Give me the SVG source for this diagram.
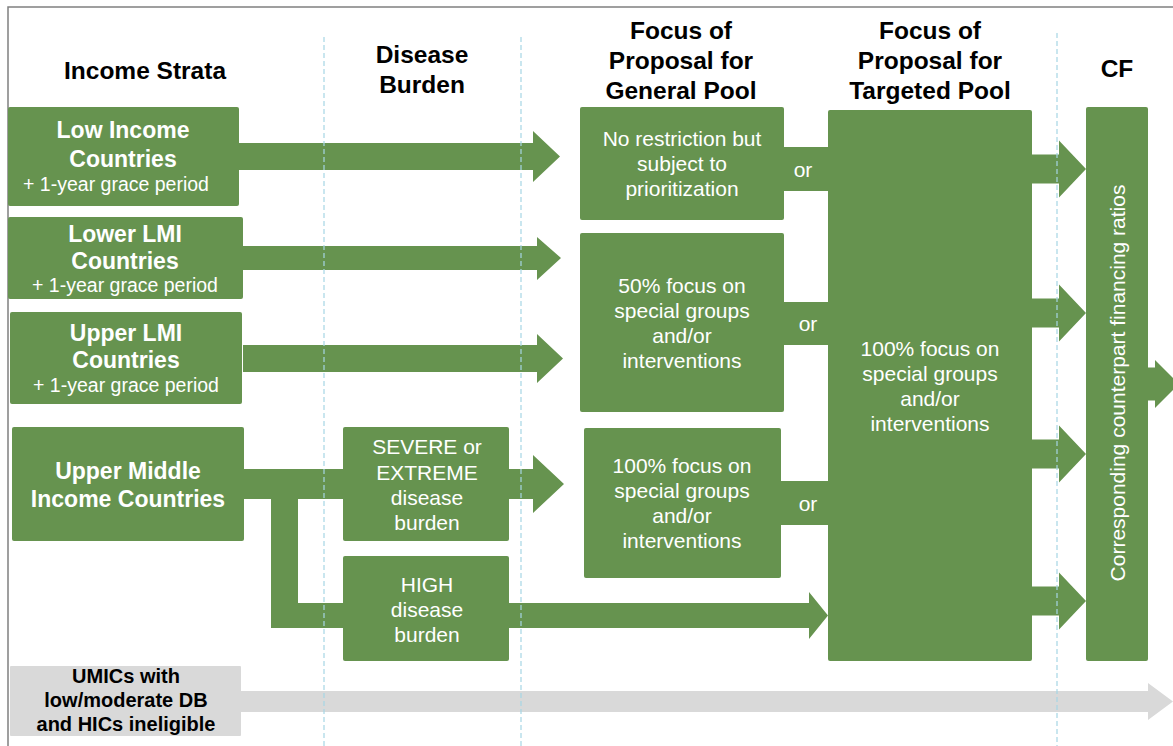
<svg xmlns="http://www.w3.org/2000/svg" width="1173" height="746" viewBox="0 0 1173 746">
<style>
.box{fill:#66934f}
.gbox{fill:#d9d9d9}
.conn{fill:#66934f}
.gconn{fill:#d9d9d9}
.guide{stroke:#a6d6e4;stroke-width:1.2;stroke-dasharray:5 3;fill:none}
.frame{stroke:#808080;stroke-width:1.5;fill:none}
text{font-family:"Liberation Sans",Arial,Helvetica,sans-serif;text-anchor:middle}
.hdr{font-weight:bold;font-size:24.5px;fill:#000}
.lbl{font-weight:bold;font-size:23px;fill:#fff}
.sub{font-size:19.5px;fill:#fff}
.body{font-size:21px;fill:#fff}
.or{font-size:21px;fill:#fff}
.glbl{font-weight:bold;font-size:20px;fill:#000}
</style>
<rect x="0" y="0" width="1173" height="746" fill="#fff"/>
<path class="frame" d="M8,746 V7 H1173"/>

<g id="headers">
<text class="hdr" x="145" y="79">Income Strata</text>
<text class="hdr" x="422" y="63">Disease</text>
<text class="hdr" x="422" y="93">Burden</text>
<text class="hdr" x="681" y="39">Focus of</text>
<text class="hdr" x="681" y="69">Proposal for</text>
<text class="hdr" x="681" y="99">General Pool</text>
<text class="hdr" x="930" y="39">Focus of</text>
<text class="hdr" x="930" y="69">Proposal for</text>
<text class="hdr" x="930" y="99">Targeted Pool</text>
<text class="hdr" x="1117" y="77">CF</text>
</g>

<g id="connectors">
<polygon class="conn" points="239,143 533,143 533,131 560,156.5 533,182 533,170 239,170"/>
<polygon class="conn" points="243,246 537,246 537,237 561,258 537,280 537,270 243,270"/>
<polygon class="conn" points="243,345 537,345 537,334 563,358.5 537,383 537,372 243,372"/>
<path class="conn" d="M244,469 H533 V455 L564,484 L533,513 V499 H298 V603 H343 V628 H271 V499 H244 Z"/>
<path class="conn" d="M509,603 H809 V592 L828,615.5 L809,639 V628 H509 Z"/>
<rect class="conn" x="783" y="147" width="46" height="44"/>
<rect class="conn" x="783" y="302" width="46" height="43"/>
<rect class="conn" x="780" y="481" width="49" height="44"/>
<text class="or" x="803" y="177">or</text>
<text class="or" x="808" y="331">or</text>
<text class="or" x="808" y="511">or</text>
<path class="conn" d="M1031,154.5 H1059 V140.5 L1086,169 L1059,197.5 V183.5 H1031 Z"/>
<path class="conn" d="M1031,298.5 H1059 V284.5 L1086,313 L1059,341.5 V327.5 H1031 Z"/>
<path class="conn" d="M1031,439.5 H1059 V425.5 L1086,454 L1059,482.5 V468.5 H1031 Z"/>
<path class="conn" d="M1031,586.5 H1059 V572.5 L1086,601 L1059,629.5 V615.5 H1031 Z"/>
<path class="conn" d="M1147,367.5 H1155 V360 L1179,384 L1155,408 V400.5 H1147 Z"/>
<path class="gconn" d="M240,691 H1148 V683 L1173,701.5 L1148,720 V712 H240 Z"/>
</g>

<g id="guides">
<line class="guide" x1="324" y1="37" x2="324" y2="746"/>
<line class="guide" x1="521" y1="37" x2="521" y2="746"/>
<line class="guide" x1="1057" y1="33" x2="1057" y2="746"/>
</g>

<g id="low-income">
<rect class="box" x="8" y="107" width="231" height="99" rx="2"/>
<text class="lbl" x="123" y="138">Low Income</text>
<text class="lbl" x="123" y="167">Countries</text>
<text class="sub" x="116" y="191">+ 1-year grace period</text>
</g>
<g id="lower-lmi">
<rect class="box" x="8" y="217" width="235" height="82" rx="2"/>
<text class="lbl" x="125" y="242">Lower LMI</text>
<text class="lbl" x="125" y="269">Countries</text>
<text class="sub" x="125" y="292">+ 1-year grace period</text>
</g>
<g id="upper-lmi">
<rect class="box" x="10" y="312" width="232" height="92" rx="2"/>
<text class="lbl" x="126" y="341">Upper LMI</text>
<text class="lbl" x="126" y="368">Countries</text>
<text class="sub" x="126" y="392">+ 1-year grace period</text>
</g>
<g id="umic">
<rect class="box" x="12" y="427" width="232" height="114" rx="2"/>
<text class="lbl" x="128" y="479">Upper Middle</text>
<text class="lbl" x="128" y="507">Income Countries</text>
</g>
<g id="severe">
<rect class="box" x="343" y="427" width="166" height="114" rx="2"/>
<text class="body" x="427" y="454">SEVERE or</text>
<text class="body" x="427" y="480">EXTREME</text>
<text class="body" x="427" y="505">disease</text>
<text class="body" x="427" y="530">burden</text>
</g>
<g id="high">
<rect class="box" x="343" y="556" width="166" height="105" rx="2"/>
<text class="body" x="427" y="592">HIGH</text>
<text class="body" x="427" y="617">disease</text>
<text class="body" x="427" y="642">burden</text>
</g>
<g id="general-none">
<rect class="box" x="580" y="107" width="204" height="113" rx="2"/>
<text class="body" x="682" y="146">No restriction but</text>
<text class="body" x="682" y="171">subject to</text>
<text class="body" x="682" y="196">prioritization</text>
</g>
<g id="general-50">
<rect class="box" x="580" y="233" width="204" height="179" rx="2"/>
<text class="body" x="682" y="293">50% focus on</text>
<text class="body" x="682" y="318">special groups</text>
<text class="body" x="682" y="343">and/or</text>
<text class="body" x="682" y="368">interventions</text>
</g>
<g id="general-100">
<rect class="box" x="584" y="428" width="197" height="150" rx="2"/>
<text class="body" x="682" y="473">100% focus on</text>
<text class="body" x="682" y="498">special groups</text>
<text class="body" x="682" y="523">and/or</text>
<text class="body" x="682" y="548">interventions</text>
</g>
<g id="targeted">
<rect class="box" x="828" y="110" width="204" height="551" rx="2"/>
<text class="body" x="930" y="356">100% focus on</text>
<text class="body" x="930" y="381">special groups</text>
<text class="body" x="930" y="406">and/or</text>
<text class="body" x="930" y="431">interventions</text>
</g>
<g id="cf">
<rect class="box" x="1086" y="107" width="62" height="554" rx="2"/>
<text class="body" transform="translate(1117,383) rotate(-90)" x="0" y="7.5">Corresponding counterpart financing ratios</text>
</g>
<g id="ineligible">
<rect class="gbox" x="10" y="666" width="231" height="70" rx="1"/>
<text class="glbl" x="126" y="683">UMICs with</text>
<text class="glbl" x="126" y="707">low/moderate DB</text>
<text class="glbl" x="126" y="731">and HICs ineligible</text>
</g>
</svg>
